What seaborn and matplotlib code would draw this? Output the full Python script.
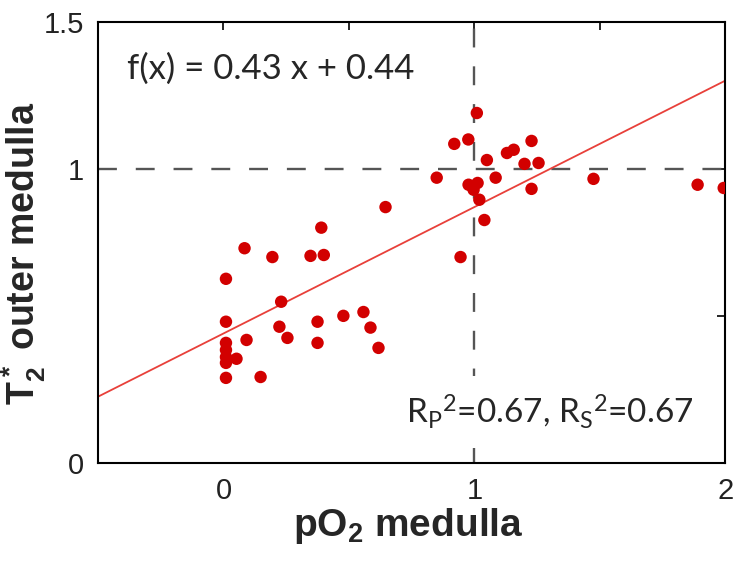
import matplotlib.pyplot as plt
import seaborn as sns
import pandas as pd
import numpy as np

# =========================================================
# DATA
# =========================================================

po2 = [0.01, 0.195, 0.347, 0.40, 0.084, 0.23, 0.01, 0.223, 0.375, 0.478,
       0.558, 0.586, 0.092, 0.255, 0.375, 0.618, 0.01, 0.01, 0.01, 0.01,
       0.052, 0.01, 0.148, 0.39, 0.646, 1.01, 0.92, 0.976, 1.05,
       1.13, 1.157, 1.228, 1.20, 1.256, 0.85, 1.085, 0.977, 1.013, 0.997,
       1.02, 1.228, 1.475, 1.04, 0.945, 1.89, 1.994]

t2star = [0.626, 0.70, 0.704, 0.707, 0.73, 0.548, 0.48, 0.463, 0.48, 0.50,
          0.513, 0.46, 0.418, 0.425, 0.408, 0.391, 0.408, 0.384, 0.36, 0.34,
          0.354, 0.289, 0.292, 0.80, 0.87, 1.19, 1.085, 1.10, 1.03,
          1.054, 1.065, 1.095, 1.017, 1.02, 0.97, 0.97, 0.946, 0.952, 0.929,
          0.895, 0.932, 0.966, 0.826, 0.70, 0.946, 0.935]

slope = 0.43
intercept = 0.44

x_limits = [-0.5, 2]
y_limits = [0, 1.5]

x_ticks = [-0.5, 0, 0.5, 1, 1.5, 2]
x_ticklabels = ["", "0", "", "1", "", "2"]
y_ticks = [0, 0.5, 1, 1.5]
y_ticklabels = ["0", "", "1", "1.5"]

df = pd.DataFrame({"pO2": po2, "T2star": t2star})

fit = pd.DataFrame({"x": x_limits})
fit["y"] = slope * fit["x"] + intercept

# =========================================================
# PLOT
# =========================================================

sns.set_style("white")
plt.rcParams["font.family"] = ["Liberation Sans", "DejaVu Sans"]
plt.rcParams["mathtext.default"] = "regular"

fig = plt.figure(figsize=(7.37, 5.61), dpi=100)
ax = fig.add_axes([0.133, 0.175, 0.851, 0.786])

ax.axhline(1, color="#555555", lw=1.7, dashes=(8, 8), zorder=1)
ax.axvline(1, color="#555555", lw=1.7, dashes=(8, 8), zorder=1)

sns.lineplot(data=fit, x="x", y="y", color="#e8403a", lw=1.3, ax=ax, zorder=2)

sns.scatterplot(
    data=df,
    x="pO2",
    y="T2star",
    color="#d20000",
    s=80,
    edgecolor="none",
    ax=ax,
    zorder=3
)

ax.set_xlim(x_limits)
ax.set_ylim(y_limits)
ax.set_xticks(x_ticks)
ax.set_xticklabels(x_ticklabels)
ax.set_yticks(y_ticks)
ax.set_yticklabels(y_ticklabels)

ax.tick_params(
    direction="in", length=6, width=1.2, labelsize=21,
    top=True, right=True, colors="black", labelcolor="#222222", pad=10
)

for spine in ax.spines.values():
    spine.set_color("black")
    spine.set_linewidth(1.5)

ax.set_xlabel("pO$_2$ medulla", fontsize=28, fontweight="bold")
ax.set_ylabel("T$_2^*$ outer medulla", fontsize=27, fontweight="bold")
ax.xaxis.set_label_coords(0.495, -0.097)
ax.yaxis.set_label_coords(-0.08, 0.475)

ax.text(
    0.047, 0.893, "f(x) = 0.43 x + 0.44",
    transform=ax.transAxes, fontsize=25, family=["Lato", "DejaVu Sans"],
    va="center", ha="left"
)

ax.text(
    0.95, 0.115, "R$_P$$^2$=0.67, R$_S$$^2$=0.67",
    transform=ax.transAxes, fontsize=24, family=["Lato", "DejaVu Sans"],
    va="center", ha="right",
    bbox=dict(facecolor="white", edgecolor="none", pad=12)
)

plt.savefig("out.png", dpi=100)
